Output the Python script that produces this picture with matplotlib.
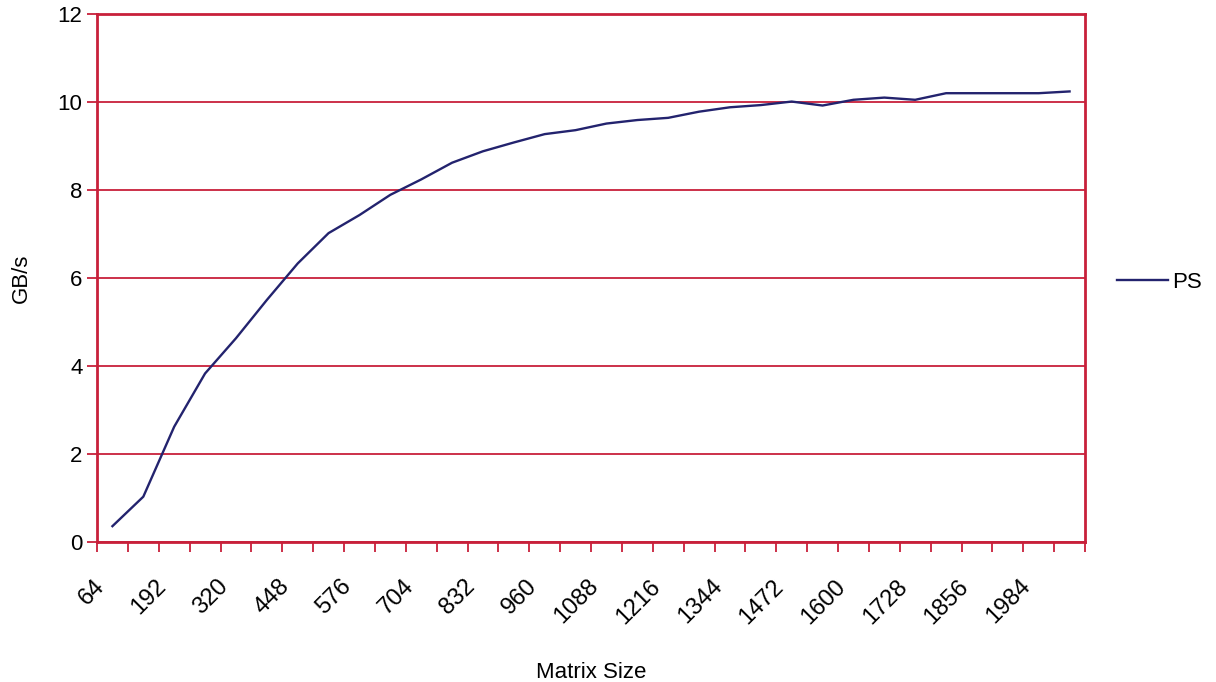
import numpy as np
import matplotlib
matplotlib.use('Agg')
import matplotlib.pyplot as plt
from matplotlib.transforms import ScaledTranslation

plt.rcParams['font.family'] = ['Liberation Sans', 'DejaVu Sans']

# matrix sizes (one category per step of 64) and measured bandwidth
sizes = list(range(64, 2049, 64))
gbps = [0.36, 1.03, 2.62, 3.83, 4.63, 5.50, 6.33, 7.02, 7.43, 7.89,
        8.24, 8.62, 8.88, 9.08, 9.27, 9.36, 9.51, 9.59, 9.64, 9.78,
        9.88, 9.93, 10.01, 9.92, 10.05, 10.10, 10.05, 10.20, 10.20, 10.20,
        10.20, 10.24]
yticks = [0, 2, 4, 6, 8, 10, 12]

red = '#c8203a'
navy = '#23236e'

fig = plt.figure(figsize=(12.16, 6.82), dpi=100)
ax = fig.add_axes([97/1216, 1 - 542/682, (1085 - 97)/1216, (542 - 14)/682])

n = len(sizes)
xpos = np.arange(n)
ax.plot(xpos, gbps, color=navy, lw=1.7, label='PS', zorder=3)

ax.set_xlim(-0.5, n - 0.5)
ax.set_ylim(0, 12)
ax.set_yticks(yticks)
ax.yaxis.grid(True, color=red, lw=1.3)
ax.set_axisbelow(True)

# labels on every other category, tick marks on category boundaries
ax.set_xticks(xpos[::2])
ax.set_xticklabels([str(s) for s in sizes[::2]], rotation=45, ha='right',
                   rotation_mode='anchor')
ax.set_xticks(np.arange(n + 1) - 0.5, minor=True)
ax.tick_params(axis='x', which='major', length=0, pad=24, labelsize=17)
ax.tick_params(axis='x', which='minor', length=7, width=1.3, color=red,
               direction='out')
ax.tick_params(axis='y', length=7, width=1.3, color=red, direction='out',
               pad=3.5, labelsize=16)
shift = ScaledTranslation(-0.19, 0, fig.dpi_scale_trans)
for lab in ax.get_xticklabels():
    lab.set_transform(lab.get_transform() + shift)

for s in ax.spines.values():
    s.set_color(red)
    s.set_linewidth(2)

ax.set_ylabel('GB/s', fontsize=16)
ax.yaxis.set_label_coords((32 - 97) / 988, 0.5)
ax.set_xlabel('Matrix Size', fontsize=16)
ax.xaxis.set_label_coords(0.5, (542 - 662) / 528)

fig.legend(loc='center left', bbox_to_anchor=(1117/1216, 1 - 282/682),
           frameon=False, fontsize=16, handlelength=2.3, handletextpad=0.2,
           borderpad=0, borderaxespad=0)

fig.savefig('out.png', dpi=100)
